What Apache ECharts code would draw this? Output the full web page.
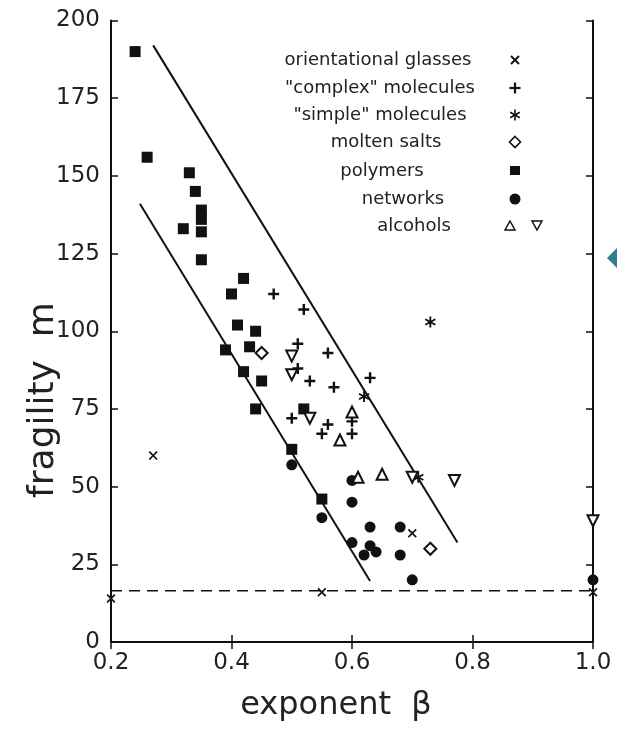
<!DOCTYPE html>
<html>
<head>
<meta charset="utf-8">
<script src="https://cdn.jsdelivr.net/npm/echarts@6/dist/echarts.min.js"></script>
<style>
html,body{margin:0;padding:0;background:#fff;}
#chart{width:617px;height:734px;}
</style>
</head>
<body>
<div id="chart"></div>
<script>
// ---- data (beta, fragility m) ----
const orientationalGlasses = [[0.27,60],[0.20,14],[0.55,16],[1.0,16],[0.70,35]];
const complexMolecules = [[0.47,112],[0.52,107],[0.51,96],[0.56,93],[0.51,88],[0.53,84],[0.57,82],[0.63,85],[0.50,72],[0.56,70],[0.55,67],[0.60,67],[0.60,71]];
const simpleMolecules = [[0.62,79],[0.73,103],[0.71,53]];
const moltenSalts = [[0.45,93],[0.73,30]];
const polymers = [[0.24,190],[0.26,156],[0.33,151],[0.34,145],[0.35,139],[0.35,136],[0.35,132],[0.32,133],[0.35,123],[0.42,117],[0.40,112],[0.41,102],[0.44,100],[0.43,95],[0.39,94],[0.42,87],[0.45,84],[0.44,75],[0.52,75],[0.50,62],[0.55,46]];
const networks = [[0.50,57],[0.55,40],[0.60,52],[0.60,45],[0.63,37],[0.68,37],[0.60,32],[0.63,31],[0.62,28],[0.64,29],[0.68,28],[0.70,20],[1.0,20]];
const alcoholsUp = [[0.58,65],[0.60,74],[0.61,53],[0.65,54]];
const alcoholsDown = [[0.50,92],[0.50,86],[0.53,72],[0.70,53],[0.77,52],[1.0,39]];
const upperBound = [[0.27,192],[0.775,32]];
const lowerBound = [[0.248,141],[0.63,19.6]];
const strongLimit = [[0.2,16.5],[1.0,16.5]];
const xTicks = [0.2,0.4,0.6,0.8,1.0];
const yTicks = [0,25,50,75,100,125,150,175,200];
const legendNames = ['orientational glasses','"complex" molecules','"simple" molecules','molten salts','polymers','networks','alcohols'];
const xTitle = 'exponent  β';
const yTitle = 'fragility  m';

// ---- symbols ----
const PLUS = 'path://M3.9,0H6.1V10H3.9Z M0,3.9H10V6.1H0Z';
const CROSS = 'path://M0,1.3L1.3,0L10,8.7L8.7,10Z M8.7,0L10,1.3L1.3,10L0,8.7Z';
const STAR = 'path://M5.8,0L4.2,0L4.2,10L5.8,10Z M8.93,8.19L9.73,6.81L1.07,1.81L0.27,3.19Z M0.27,6.81L1.07,8.19L9.73,3.19L8.93,1.81Z';
const INK = '#111';

const chart = echarts.init(document.getElementById('chart'));
const font = 'DejaVu Sans';

function scatter(name, data, symbol, size, extra) {
  return Object.assign({
    name, type:'scatter', data, symbol, symbolSize:size,
    itemStyle:{color:INK, opacity:1}, z:5, silent:true
  }, extra||{});
}
function segment(data, style) {
  return {type:'line', data, symbol:'none', lineStyle:style, z:2, silent:true, animation:false};
}

const legendRows = [
  {cx:378, y:60}, {cx:380, y:88}, {cx:380, y:115}, {cx:386, y:142},
  {cx:382, y:171}, {cx:403, y:199}, {cx:414, y:226}
];
const graphics = [];
legendNames.forEach((t,i)=>{
  graphics.push({type:'text', x:legendRows[i].cx, y:legendRows[i].y,
    style:{text:t, font:'18px "'+font+'"', fill:'#222', textAlign:'center', textVerticalAlign:'middle'}});
});
// y axis title
graphics.push({type:'text', x:44, y:400, rotation:Math.PI/2,
  style:{text:yTitle, font:'36px "'+font+'"', fill:'#222', textAlign:'center', textVerticalAlign:'middle'}});
// legend symbol keys
const keyX = 515;
function seg(x1,y1,x2,y2,w){ return {type:'line', shape:{x1,y1,x2,y2}, style:{stroke:INK, lineWidth:w}}; }
graphics.push(seg(keyX-4,56,keyX+4,64,2), seg(keyX+4,56,keyX-4,64,2));
graphics.push(seg(keyX-5.5,88,keyX+5.5,88,2.2), seg(keyX,82.5,keyX,93.5,2.2));
graphics.push(seg(keyX,109.5,keyX,120.5,1.6), seg(keyX-4.8,112.2,keyX+4.8,117.8,1.6), seg(keyX-4.8,117.8,keyX+4.8,112.2,1.6));
graphics.push({type:'polygon', shape:{points:[[keyX,136.5],[keyX+5.5,142],[keyX,147.5],[keyX-5.5,142]]}, style:{fill:'#fff', stroke:INK, lineWidth:1.6}});
graphics.push({type:'rect', shape:{x:keyX-5, y:166, width:10, height:9}, style:{fill:INK}});
graphics.push({type:'circle', shape:{cx:keyX, cy:199, r:5.5}, style:{fill:INK}});
graphics.push({type:'polygon', shape:{points:[[510,221],[515,230],[505,230]]}, style:{fill:'#fff', stroke:INK, lineWidth:1.5}});
graphics.push({type:'polygon', shape:{points:[[532,221],[542,221],[537,230]]}, style:{fill:'#fff', stroke:INK, lineWidth:1.5}});
// small teal marker at right edge
graphics.push({type:'polygon', shape:{points:[[617,248],[607,258],[617,268]]}, style:{fill:'#2e7f8c'}});

const axisLine = {show:true, lineStyle:{color:INK, width:2}};
const tickIn = {show:true, inside:true, length:7, lineStyle:{color:INK, width:1.5}};

chart.setOption({
  animation:false,
  backgroundColor:'#fff',
  grid:{left:111, right:24, top:20.5, bottom:92, containLabel:false},
  xAxis:[{
    type:'value', min:xTicks[0], max:xTicks[xTicks.length-1], interval:0.2,
    axisLine, axisTick:tickIn, splitLine:{show:false},
    axisLabel:{margin:10, color:'#222', fontSize:23, fontFamily:font, formatter:v=>v.toFixed(1)},
    name:xTitle, nameLocation:'middle', nameGap:48,
    nameTextStyle:{fontSize:32, fontFamily:font, color:'#222', padding:[0,32,0,0]}
  },{
    type:'value', position:'top', min:xTicks[0], max:xTicks[xTicks.length-1], interval:0.2,
    axisLine, axisTick:tickIn, axisLabel:{show:false}, splitLine:{show:false}
  }],
  yAxis:[{
    type:'value', min:yTicks[0], max:yTicks[yTicks.length-1], interval:25,
    axisLine, axisTick:tickIn, splitLine:{show:false},
    axisLabel:{margin:11, color:'#222', fontSize:23, fontFamily:font}
  },{
    type:'value', position:'right', min:yTicks[0], max:yTicks[yTicks.length-1], interval:25,
    axisLine, axisTick:tickIn, axisLabel:{show:false}, splitLine:{show:false}
  }],
  graphic:graphics,
  series:[
    segment(upperBound, {color:INK, width:2}),
    segment(lowerBound, {color:INK, width:2}),
    segment(strongLimit, {color:INK, width:1.6, type:[11,7]}),
    scatter('orientational glasses', orientationalGlasses, CROSS, 9),
    scatter('"complex" molecules', complexMolecules, PLUS, 11),
    scatter('"simple" molecules', simpleMolecules, STAR, 11),
    scatter('molten salts', moltenSalts, 'emptyDiamond', 12, {itemStyle:{color:INK, opacity:1, borderWidth:1.6}}),
    scatter('polymers', polymers, 'rect', 11),
    scatter('networks', networks, 'circle', 11),
    scatter('alcohols up', alcoholsUp, 'emptyTriangle', 11, {itemStyle:{color:INK, opacity:1, borderWidth:1.5}}),
    scatter('alcohols down', alcoholsDown, 'emptyTriangle', 11, {symbolRotate:180, itemStyle:{color:INK, opacity:1, borderWidth:1.5}})
  ]
});
</script>
</body>
</html>
